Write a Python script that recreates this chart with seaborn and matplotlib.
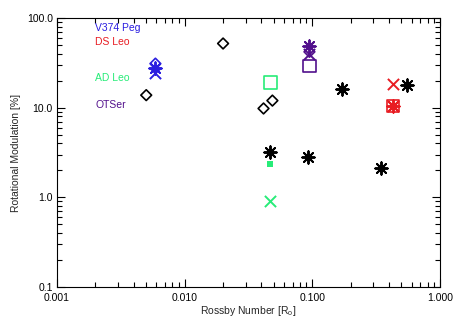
import numpy as np
import pandas as pd
import matplotlib
matplotlib.use("Agg")
import matplotlib.pyplot as plt
import seaborn as sns
from matplotlib.ticker import LogLocator, FixedLocator, FixedFormatter, NullFormatter

# ---- data ----
star_names = ["V374 Peg", "DS Leo", "AD Leo", "OTSer"]
star_colors = ["#2b1ee0", "#e81c22", "#27ec78", "#52108c"]
label_y = [77.0, 54.0, 21.5, 10.8]

# other stars (black)
other_diamond_ro = [0.0050, 0.0200, 0.0415, 0.0487]
other_diamond_mod = [13.8, 52.0, 9.8, 12.0]
other_star_ro = [0.047, 0.092, 0.170, 0.345, 0.550]
other_star_mod = [3.2, 2.8, 16.0, 2.1, 17.8]

# V374 Peg
v374_ro = [0.0059, 0.0059, 0.0059]
v374_mod = [31.0, 27.5, 24.5]
v374_mark = ["diamond", "asterisk", "x"]

# DS Leo
dsleo_ro = [0.43, 0.43, 0.43, 0.43]
dsleo_mod = [18.5, 10.4, 10.4, 10.4]
dsleo_mark = ["x", "square", "asterisk", "x"]

# AD Leo
adleo_ro = [0.047, 0.047, 0.047]
adleo_mod = [19.0, 2.35, 0.9]
adleo_mark = ["square", "dot", "x"]

# OTSer
otser_ro = [0.095, 0.095, 0.095, 0.095]
otser_mod = [49.0, 42.0, 40.0, 29.0]
otser_mark = ["asterisk", "diamond", "x", "square"]

x_ticks = [0.001, 0.01, 0.1, 1.0]
x_ticklabels = ["0.001", "0.010", "0.100", "1.000"]
y_ticks = [0.1, 1.0, 10.0, 100.0]
y_ticklabels = ["0.1", "1.0", "10.0", "100.0"]

# ---- build one table ----
frames = [
    pd.DataFrame({"ro": other_diamond_ro, "mod": other_diamond_mod,
                  "mark": "diamond", "color": "black"}),
    pd.DataFrame({"ro": other_star_ro, "mod": other_star_mod,
                  "mark": "asterisk", "color": "black"}),
]
for ro, mod, mark, col in [(v374_ro, v374_mod, v374_mark, star_colors[0]),
                           (dsleo_ro, dsleo_mod, dsleo_mark, star_colors[1]),
                           (adleo_ro, adleo_mod, adleo_mark, star_colors[2]),
                           (otser_ro, otser_mod, otser_mark, star_colors[3])]:
    frames.append(pd.DataFrame({"ro": ro, "mod": mod, "mark": mark, "color": col}))
df = pd.concat(frames, ignore_index=True)

marker_style = {
    "diamond":  dict(marker="D", s=30, facecolor="none", linewidth=1.2),
    "square":   dict(marker="s", s=80, facecolor="none", linewidth=1.2),
    "x":        dict(marker="x", s=65, linewidth=1.4),
    "asterisk": dict(marker=(8, 2, 0), s=80, linewidth=1.4),
    "dot":      dict(marker="s", s=14, linewidth=0),
}

sns.set_style("white")
plt.rcParams["font.family"] = ["Liberation Sans", "DejaVu Sans"]

fig = plt.figure(figsize=(4.58, 3.28), dpi=100)
ax = fig.add_axes([0.1245, 0.125, 0.836, 0.820])

for (mark, col), g in df.groupby(["mark", "color"], sort=False):
    kw = dict(marker_style[mark])
    if kw.get("facecolor") == "none":
        kw["edgecolor"] = col
    sns.scatterplot(data=g, x="ro", y="mod", color=col, ax=ax, legend=False, **kw)

ax.set_xscale("log")
ax.set_yscale("log")
ax.set_xlim(0.001, 1.0)
ax.set_ylim(0.1, 100.0)

ax.xaxis.set_major_locator(FixedLocator(x_ticks))
ax.xaxis.set_major_formatter(FixedFormatter(x_ticklabels))
ax.yaxis.set_major_locator(FixedLocator(y_ticks))
ax.yaxis.set_major_formatter(FixedFormatter(y_ticklabels))
ax.xaxis.set_minor_locator(LogLocator(base=10, subs=np.arange(2, 10)))
ax.yaxis.set_minor_locator(LogLocator(base=10, subs=np.arange(2, 10)))
ax.xaxis.set_minor_formatter(NullFormatter())
ax.yaxis.set_minor_formatter(NullFormatter())

ax.tick_params(which="both", direction="in", top=True, right=True,
               bottom=True, left=True, colors="black", labelsize=7.5, width=0.8)
ax.tick_params(which="major", length=6)
ax.tick_params(which="minor", length=3.5)
ax.tick_params(axis="x", pad=4)
ax.tick_params(axis="y", pad=3)
for sp in ax.spines.values():
    sp.set_visible(True)
    sp.set_color("black")
    sp.set_linewidth(0.8)

ax.set_xlabel("Rossby Number [R$_\\mathregular{o}$]", fontsize=7.5, labelpad=1)
ax.set_ylabel("Rotational Modulation [%]", fontsize=7.5, labelpad=4)

for name, col, ly in zip(star_names, star_colors, label_y):
    ax.text(0.002, ly, name, color=col, fontsize=7.5, va="center", ha="left")

fig.savefig("out.png", dpi=100)
